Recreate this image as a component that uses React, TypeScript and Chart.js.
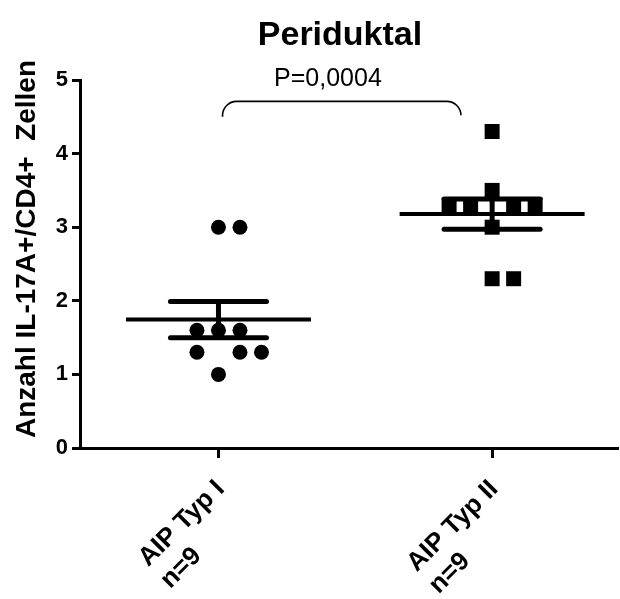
import React, { useEffect, useRef } from 'react';
import { Chart, registerables } from 'chart.js';

Chart.register(...registerables);

// ---- data ----
const chartTitle = 'Periduktal';
const yAxisTitle = 'Anzahl IL-17A+/CD4+  Zellen';
const pValueText = 'P=0,0004';
const groupLabels: string[][] = [
  ['AIP Typ I', 'n=9'],
  ['AIP Typ II', 'n=9'],
];
const typIValues = [3.0, 3.0, 1.6, 1.6, 1.6, 1.3, 1.3, 1.3, 1.0];
const typIIValues = [4.3, 3.5, 3.3, 3.3, 3.3, 3.3, 3.0, 2.3, 2.3];
const yTickValues = [0, 1, 2, 3, 4, 5];

// ---- layout (symbol columns for overlapping values) ----
const COLS_I = [0, 1, -1, 0, 1, -1, 1, 2, 0];
const COLS_II = [0, 0, -2, -1, 1, 2, 0, 0, 1];
const COL_STEP = 0.0786;
const MEAN_HALF = 0.338;
const CAP_HALF = 0.1755;
const FONT = '"Liberation Sans", Arial, Helvetica, sans-serif';

function mean(a: number[]) {
  return a.reduce((s, v) => s + v, 0) / a.length;
}
function sem(a: number[]) {
  const m = mean(a);
  const v = a.reduce((s, x) => s + (x - m) * (x - m), 0) / (a.length - 1);
  return Math.sqrt(v) / Math.sqrt(a.length);
}

function errorSets(c: number, vals: number[]) {
  const m = mean(vals);
  const s = sem(vals);
  const base = {
    showLine: true,
    pointRadius: 0,
    borderColor: '#000',
    backgroundColor: '#000',
  };
  return [
    { ...base, data: [{ x: c - MEAN_HALF, y: m }, { x: c + MEAN_HALF, y: m }], borderWidth: 4, borderCapStyle: 'butt' },
    { ...base, data: [{ x: c - CAP_HALF, y: m + s }, { x: c + CAP_HALF, y: m + s }], borderWidth: 5, borderCapStyle: 'round' },
    { ...base, data: [{ x: c - CAP_HALF, y: m - s }, { x: c + CAP_HALF, y: m - s }], borderWidth: 5, borderCapStyle: 'round' },
    { ...base, data: [{ x: c, y: m - s }, { x: c, y: m + s }], borderWidth: 5, borderCapStyle: 'butt' },
  ];
}

const annotations = {
  id: 'annotations',
  afterDraw(chart: any) {
    const { ctx } = chart;
    const xs = chart.scales.x;
    const ys = chart.scales.y;
    ctx.save();
    ctx.fillStyle = '#000';
    ctx.strokeStyle = '#000';

    // title
    ctx.font = `bold 34px ${FONT}`;
    ctx.textAlign = 'center';
    ctx.textBaseline = 'alphabetic';
    ctx.fillText(chartTitle, 340, 45);

    // significance bracket
    const x0 = xs.getPixelForValue(1.015);
    const x1 = xs.getPixelForValue(1.886);
    const yt = ys.getPixelForValue(4.71);
    const yb = ys.getPixelForValue(4.5);
    const r = 14;
    ctx.lineWidth = 1.6;
    ctx.beginPath();
    ctx.moveTo(x0, yb);
    ctx.arcTo(x0, yt, x0 + r, yt, r);
    ctx.lineTo(x1 - r, yt);
    ctx.arcTo(x1, yt, x1, yb, r);
    ctx.stroke();

    ctx.font = `25px ${FONT}`;
    ctx.textAlign = 'center';
    ctx.fillText(pValueText, xs.getPixelForValue(1.4), 86);

    // y axis title
    ctx.save();
    ctx.translate(35, 249);
    ctx.rotate(-Math.PI / 2);
    ctx.font = `bold 28px ${FONT}`;
    ctx.textAlign = 'center';
    ctx.textBaseline = 'alphabetic';
    ctx.fillText(yAxisTitle, 0, 0);
    ctx.restore();

    // x category labels, rotated 45deg, lines left-aligned
    ctx.font = `bold 26px ${FONT}`;
    groupLabels.forEach((lines, i) => {
      const tx = xs.getPixelForValue(i + 1);
      ctx.save();
      ctx.translate(tx + 2, chart.chartArea.bottom + 37);
      ctx.rotate(-Math.PI / 4);
      ctx.textAlign = 'left';
      ctx.textBaseline = 'middle';
      const w = ctx.measureText(lines[0]).width;
      lines.forEach((ln, j) => ctx.fillText(ln, -w, j * 31));
      ctx.restore();
    });

    ctx.restore();
  },
};

export default function App() {
  const ref = useRef<HTMLCanvasElement | null>(null);

  useEffect(() => {
    document.body.style.margin = '0';
    document.body.style.overflow = 'hidden';
    const canvas = ref.current;
    if (!canvas) return;

    const pointsI = typIValues.map((v, i) => ({ x: 1 + COLS_I[i] * COL_STEP, y: v }));
    const pointsII = typIIValues.map((v, i) => ({ x: 2 + COLS_II[i] * COL_STEP, y: v }));

    const chart = new Chart(canvas, {
      type: 'scatter',
      data: {
        datasets: [
          ...errorSets(1, typIValues),
          ...errorSets(2, typIIValues),
          {
            data: pointsI,
            pointStyle: 'circle',
            pointRadius: 7.5,
            backgroundColor: '#000',
            borderColor: '#000',
            borderWidth: 0,
          },
          {
            data: pointsII,
            pointStyle: 'rect',
            pointRadius: 10.6,
            backgroundColor: '#000',
            borderColor: '#000',
            borderWidth: 0,
          },
        ] as any,
      },
      options: {
        responsive: false,
        animation: false,
        events: [],
        layout: { autoPadding: false, padding: { top: 80, right: 2, bottom: 0, left: 0 } },
        plugins: {
          legend: { display: false },
          tooltip: { enabled: false },
          title: { display: false },
        },
        scales: {
          x: {
            type: 'linear',
            min: 0.494,
            max: 2.46,
            afterBuildTicks: (s: any) => {
              s.ticks = groupLabels.map((_, i) => ({ value: i + 1 }));
            },
            afterFit: (s: any) => {
              s.height = 151;
            },
            ticks: { display: false },
            grid: {
              display: true,
              drawOnChartArea: false,
              drawTicks: true,
              tickLength: 10,
              tickWidth: 3,
              tickColor: '#000',
            },
            border: { display: true, width: 3, color: '#000' },
          },
          y: {
            type: 'linear',
            min: 0,
            max: 5,
            afterBuildTicks: (s: any) => {
              s.ticks = yTickValues.map((v) => ({ value: v }));
            },
            afterFit: (s: any) => {
              s.width = 80;
            },
            ticks: {
              color: '#000',
              padding: 4,
              font: { family: FONT, size: 22, weight: 'bold' },
              callback: (v: any) => String(v),
            },
            grid: {
              display: true,
              drawOnChartArea: false,
              drawTicks: true,
              tickLength: 8,
              tickWidth: 3,
              tickColor: '#000',
            },
            border: { display: true, width: 3, color: '#000' },
          },
        },
      } as any,
      plugins: [annotations],
    });

    return () => chart.destroy();
  }, []);

  return (
    <div style={{ width: 620, height: 599, background: '#fff' }}>
      <canvas ref={ref} width={620} height={599} style={{ display: 'block' }} />
    </div>
  );
}
